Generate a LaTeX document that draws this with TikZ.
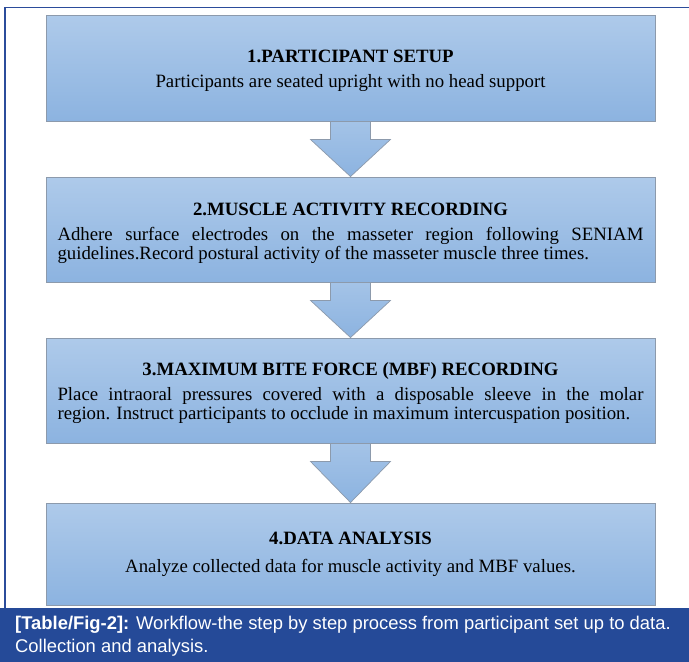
\documentclass[tikz,border=0pt]{standalone}
\usepackage{fontspec}
\setmainfont{Liberation Serif}
\newfontfamily\capfont{Liberation Sans}
\usetikzlibrary{calc}
\definecolor{framecol}{HTML}{2B4C9B}
\definecolor{capbg}{HTML}{254A98}
\definecolor{boxtop}{HTML}{AECAEA}
\definecolor{boxbot}{HTML}{8CB3E0}
\definecolor{boxline}{HTML}{8C9AAC}
\begin{document}
\begin{tikzpicture}[x=1pt,y=-1pt,
  stepbox/.style={draw=boxline, line width=0.9pt, top color=boxtop, bottom color=boxbot,
    minimum width=609pt, inner sep=0pt},
  ttl/.style={font=\fontsize{18.8}{20}\selectfont\bfseries, inner sep=0pt, anchor=base},
  body/.style={font=\fontsize{18.8}{19.5}\selectfont, inner sep=0pt, anchor=base},
  jbody/.style={font=\fontsize{18.8}{19.5}\selectfont, inner sep=0pt, text width=586pt,
    align=justify, anchor=base},
  flow/.style={draw=boxline, line width=0.7pt, top color=boxtop!70!boxbot, bottom color=boxbot},
  captext/.style={text=white, inner sep=0pt, anchor=base west,
    font=\capfont\fontsize{18.4}{22}\selectfont}]
\useasboundingbox (0,0) rectangle (689,662);
\fill[white] (0,0) rectangle (689,662);
\draw[framecol, line width=1.5pt] (5,608) -- (5,7.3) -- (689,7.3);
\fill[capbg] (0,608) rectangle (689,662);

% boxes
\node[stepbox, minimum height=106pt] (b1) at (350.5,68) {};
\node[stepbox, minimum height=105pt] (b2) at (350.5,229.5) {};
\node[stepbox, minimum height=105pt] (b3) at (350.5,390.5) {};
\node[stepbox, minimum height=102pt] (b4) at (350.5,554) {};

% arrows
\foreach \a/\b in {b1/b2, b2/b3, b3/b4}{
  \path let \p1=(\a.south), \p2=(\b.north) in
    [flow] (\x1-20,\y1) -- (\x1-20,\y1-18) -- (\x1-40,\y1-18) -- (\x2,\y2)
      -- (\x1+40,\y1-18) -- (\x1+20,\y1-18) -- (\x1+20,\y1) -- cycle;
}

% texts
\node[ttl] (t1) at (350.5,62) {1.PARTICIPANT SETUP};
\node[body] (d1) at (350.5,87) {Participants are seated upright with no head support};

\node[ttl] (t2) at (350.5,215) {2.MUSCLE ACTIVITY RECORDING};
\node[jbody] (d2) at (350.5,240) {Adhere surface electrodes on the masseter region following SENIAM\linebreak guidelines.Record postural activity of the masseter muscle three times.};

\node[ttl] (t3) at (350.5,375) {3.MAXIMUM BITE FORCE (MBF) RECORDING};
\node[jbody] (d3) at (350.5,400) {Place intraoral pressures covered with a disposable sleeve in the molar\linebreak region. Instruct participants to occlude in maximum intercuspation position.};

\node[ttl] (t4) at (350.5,544) {4.DATA ANALYSIS};
\node[body] (d4) at (350.5,572) {Analyze collected data for muscle activity and MBF values.};

% caption
\node[captext] (c1) at (15,629) {\textbf{[Table/Fig-2]:} Workflow-the step by step process from participant set up to data.};
\node[captext] (c2) at (15,652) {Collection and analysis.};
\end{tikzpicture}
\end{document}
